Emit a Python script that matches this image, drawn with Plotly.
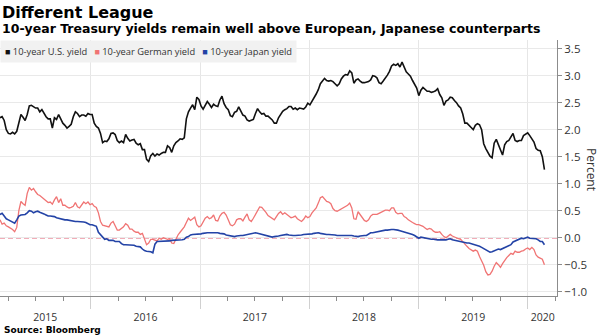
import pandas as pd
import plotly.graph_objects as go

# ---------------- data (weekly readings, %) ----------------
start_date = "2015-03-03"

us_yield = [
    2.22, 2.24, 2.17, 2.00, 1.93, 1.92, 1.95, 1.92, 1.97, 2.13,
    2.28, 2.23, 2.17, 2.28, 2.44, 2.45, 2.43, 2.40, 2.40, 2.33,
    2.37, 2.30, 2.24, 2.20, 2.20, 2.03, 2.22, 2.19, 2.28, 2.20,
    2.12, 2.08, 2.03, 2.06, 2.10, 2.24, 2.33, 2.30, 2.24, 2.27,
    2.27, 2.25, 2.30, 2.28, 2.28, 2.12, 2.06, 2.03, 1.93, 1.76,
    1.79, 1.78, 1.83, 1.93, 1.94, 1.91, 1.80, 1.76, 1.79, 1.76,
    1.91, 1.84, 1.79, 1.81, 1.82, 1.75, 1.72, 1.74, 1.63, 1.63,
    1.45, 1.41, 1.52, 1.56, 1.51, 1.55, 1.53, 1.56, 1.58, 1.58,
    1.70, 1.67, 1.58, 1.70, 1.76, 1.79, 1.83, 1.82, 1.85, 2.20,
    2.33, 2.40, 2.46, 2.37, 2.60, 2.56, 2.44, 2.38, 2.44, 2.52,
    2.47, 2.41, 2.47, 2.44, 2.43, 2.55, 2.62, 2.48, 2.41, 2.37,
    2.26, 2.24, 2.32, 2.34, 2.42, 2.33, 2.27, 2.25, 2.18, 2.16,
    2.18, 2.19, 2.30, 2.39, 2.33, 2.29, 2.30, 2.25, 2.25, 2.21,
    2.18, 2.12, 2.12, 2.22, 2.29, 2.34, 2.37, 2.39, 2.43, 2.43,
    2.38, 2.40, 2.37, 2.40, 2.39, 2.38, 2.42, 2.49, 2.46, 2.52,
    2.59, 2.66, 2.74, 2.85, 2.90, 2.95, 2.91, 2.90, 2.91, 2.89,
    2.85, 2.81, 2.85, 2.94, 2.99, 3.02, 3.01, 3.09, 3.05, 2.86,
    2.92, 2.94, 2.90, 2.87, 2.87, 2.88, 2.89, 2.92, 3.00, 2.99,
    2.96, 2.87, 2.85, 2.90, 2.95, 3.01, 3.08, 3.18, 3.21, 3.19,
    3.22, 3.16, 3.25, 3.14, 3.07, 3.03, 2.99, 2.91, 2.84, 2.77,
    2.63, 2.73, 2.78, 2.74, 2.71, 2.71, 2.69, 2.70, 2.72, 2.76,
    2.65, 2.59, 2.45, 2.53, 2.55, 2.60, 2.59, 2.54, 2.50, 2.44,
    2.40, 2.29, 2.12, 2.12, 2.07, 2.04, 2.00, 2.08, 2.11, 2.09,
    2.00, 1.74, 1.65, 1.59, 1.51, 1.48, 1.75, 1.82, 1.71, 1.62,
    1.53, 1.72, 1.78, 1.80, 1.87, 1.93, 1.80, 1.78, 1.80, 1.80,
    1.89, 1.92, 1.94, 1.89, 1.83, 1.77, 1.65, 1.62, 1.61, 1.50,
    1.26,
]

german_yield = [
    0.33, 0.25, 0.27, 0.22, 0.20, 0.18, 0.15, 0.11, 0.19, 0.50,
    0.67, 0.63, 0.60, 0.82, 0.93, 0.88, 0.91, 0.85, 0.80, 0.78,
    0.75, 0.72, 0.68, 0.65, 0.66, 0.62, 0.70, 0.76, 0.65, 0.72,
    0.60, 0.60, 0.57, 0.55, 0.56, 0.58, 0.65, 0.57, 0.55, 0.61,
    0.66, 0.63, 0.66, 0.61, 0.63, 0.58, 0.56, 0.46, 0.30, 0.23,
    0.22, 0.22, 0.20, 0.27, 0.30, 0.22, 0.14, 0.14, 0.17, 0.20,
    0.26, 0.23, 0.16, 0.16, 0.12, 0.10, 0.10, 0.06, 0.08, -0.04,
    -0.13, -0.10, -0.03, -0.03, -0.05, -0.06, -0.01, -0.03, 0.00, -0.01,
    -0.03, -0.02, -0.10, -0.11, -0.02, 0.05, 0.10, 0.15, 0.20, 0.28,
    0.36, 0.32, 0.36, 0.38, 0.24, 0.20, 0.22, 0.29, 0.36, 0.39,
    0.35, 0.37, 0.42, 0.32, 0.31, 0.40, 0.45, 0.47, 0.42, 0.33,
    0.24, 0.22, 0.25, 0.33, 0.35, 0.35, 0.31, 0.38, 0.44, 0.33,
    0.30, 0.36, 0.43, 0.51, 0.57, 0.56, 0.52, 0.47, 0.41, 0.38,
    0.36, 0.33, 0.39, 0.45, 0.48, 0.43, 0.46, 0.43, 0.39, 0.37,
    0.38, 0.40, 0.35, 0.32, 0.30, 0.34, 0.40, 0.37, 0.39, 0.46,
    0.50, 0.55, 0.64, 0.74, 0.76, 0.72, 0.67, 0.66, 0.63, 0.54,
    0.50, 0.49, 0.51, 0.53, 0.55, 0.57, 0.60, 0.64, 0.55, 0.35,
    0.34, 0.48, 0.43, 0.37, 0.32, 0.30, 0.33, 0.40, 0.43, 0.43,
    0.43, 0.45, 0.47, 0.49, 0.51, 0.51, 0.50, 0.55, 0.55, 0.47,
    0.44, 0.45, 0.45, 0.39, 0.37, 0.33, 0.30, 0.28, 0.26, 0.24,
    0.24, 0.23, 0.21, 0.18, 0.15, 0.17, 0.16, 0.12, 0.10, 0.10,
    0.11, 0.06, 0.02, 0.00, 0.03, 0.06, 0.03, 0.01, -0.01, -0.02,
    -0.03, -0.08, -0.12, -0.16, -0.20, -0.23, -0.25, -0.23, -0.25, -0.35,
    -0.42, -0.51, -0.63, -0.69, -0.68, -0.62, -0.53, -0.46, -0.50, -0.55,
    -0.48, -0.42, -0.37, -0.33, -0.29, -0.31, -0.25, -0.27, -0.27, -0.25,
    -0.24, -0.21, -0.19, -0.22, -0.18, -0.22, -0.32, -0.36, -0.38, -0.40,
    -0.50,
]

japan_yield = [
    0.43, 0.45, 0.40, 0.35, 0.33, 0.31, 0.29, 0.27, 0.33, 0.40,
    0.42, 0.43, 0.43, 0.46, 0.50, 0.49, 0.46, 0.48, 0.49, 0.47,
    0.46, 0.44, 0.42, 0.40, 0.40, 0.40, 0.39, 0.37, 0.36, 0.34,
    0.33, 0.33, 0.33, 0.32, 0.31, 0.30, 0.30, 0.30, 0.30, 0.30,
    0.29, 0.28, 0.26, 0.24, 0.24, 0.23, 0.21, 0.10, 0.05, 0.00,
    -0.03, -0.02, -0.05, -0.05, -0.05, -0.07, -0.07, -0.07, -0.11, -0.13,
    -0.13, -0.13, -0.13, -0.13, -0.14, -0.16, -0.16, -0.17, -0.21, -0.24,
    -0.25, -0.25, -0.26, -0.28, -0.12, -0.07, -0.07, -0.07, -0.07, -0.07,
    -0.07, -0.06, -0.05, -0.05, -0.05, -0.04, -0.04, -0.04, -0.03, 0.01,
    0.02, 0.05, 0.06, 0.06, 0.06, 0.06, 0.07, 0.08, 0.09, 0.09,
    0.09, 0.09, 0.10, 0.10, 0.09, 0.08, 0.08, 0.07, 0.05, 0.04,
    0.03, 0.02, 0.02, 0.03, 0.04, 0.04, 0.04, 0.05, 0.06, 0.07,
    0.08, 0.09, 0.09, 0.08, 0.07, 0.06, 0.05, 0.04, 0.03, 0.02,
    0.01, 0.02, 0.02, 0.03, 0.04, 0.05, 0.05, 0.06, 0.05, 0.04,
    0.04, 0.04, 0.04, 0.05, 0.05, 0.06, 0.06, 0.06, 0.07, 0.07,
    0.08, 0.09, 0.09, 0.08, 0.07, 0.07, 0.06, 0.06, 0.06, 0.06,
    0.05, 0.04, 0.04, 0.04, 0.04, 0.05, 0.05, 0.04, 0.04, 0.03,
    0.02, 0.02, 0.03, 0.04, 0.04, 0.04, 0.06, 0.09, 0.09, 0.10,
    0.10, 0.11, 0.12, 0.13, 0.14, 0.14, 0.15, 0.15, 0.15, 0.15,
    0.14, 0.13, 0.12, 0.11, 0.10, 0.09, 0.08, 0.06, 0.04, 0.01,
    -0.01, 0.01, 0.00, -0.01, -0.01, -0.02, -0.03, -0.03, -0.04, -0.04,
    -0.04, -0.04, -0.05, -0.04, -0.03, -0.02, -0.04, -0.05, -0.06, -0.06,
    -0.07, -0.09, -0.10, -0.10, -0.10, -0.11, -0.12, -0.13, -0.14, -0.16,
    -0.18, -0.20, -0.22, -0.24, -0.27, -0.26, -0.24, -0.22, -0.21, -0.22,
    -0.20, -0.18, -0.16, -0.15, -0.13, -0.08, -0.06, -0.05, -0.02, -0.01,
    -0.02, 0.00, 0.01, -0.01, -0.01, -0.02, -0.02, -0.04, -0.07, -0.07,
    -0.13,
]

series_names = ["10-year U.S. yield", "10-year German yield", "10-year Japan yield"]
series_colors = ["#111111", "#f07474", "#2343a6"]

year_starts = ["2016-01-01", "2017-01-01", "2018-01-01", "2019-01-01", "2020-01-01"]
year_label_pos = ["2015-08-01", "2016-07-01", "2017-07-02", "2018-07-02", "2019-07-02", "2020-02-19"]
year_labels = ["2015", "2016", "2017", "2018", "2019", "2020"]
x_range = ["2015-03-03", "2020-04-07"]
y_range = [-1.08, 3.66]

dates = pd.date_range(start=start_date, periods=len(us_yield), freq="7D")

# ---------------- figure ----------------
fig = go.Figure()
for vals, name, col, w in zip([us_yield, german_yield, japan_yield], series_names, series_colors, [1.6, 1.3, 1.6]):
    fig.add_trace(go.Scatter(x=dates, y=vals, mode="lines", name=name,
                             line=dict(color=col, width=w), showlegend=False))

# helper axis for centred year labels (invisible trace keeps it alive)
fig.add_trace(go.Scatter(x=[dates[0]], y=[None], xaxis="x2", showlegend=False,
                         hoverinfo="skip", mode="lines"))

fig.add_shape(type="line", xref="paper", x0=0, x1=1, yref="y", y0=0, y1=0,
              line=dict(color="#e35d72", width=1.5, dash="5px,3px"), layer="between")

FONT = "Open Sans"
fig.update_layout(
    width=600, height=336,
    margin=dict(l=0, r=43, t=40, b=40),
    paper_bgcolor="white", plot_bgcolor="white",
    font=dict(family=FONT, color="#333333"),
    showlegend=False,
    xaxis=dict(type="date", range=x_range, tickmode="array", tickvals=year_starts,
               showticklabels=False, showgrid=True, gridcolor="#e6e6e6", gridwidth=1,
               ticks="outside", ticklen=12, tickcolor="#d0d0d0", tickwidth=1,
               showline=True, linecolor="#8c8c8c", linewidth=1, zeroline=False,
               minor=dict(dtick="M3", tick0="2015-01-01", ticks="outside", ticklen=4,
                          tickcolor="#8c8c8c", showgrid=False)),
    xaxis2=dict(type="date", range=x_range, overlaying="x", anchor="y", side="bottom",
                tickmode="array", tickvals=year_label_pos, ticktext=year_labels,
                ticks="outside", ticklen=11, tickcolor="rgba(0,0,0,0)",
                showgrid=False, showline=False, zeroline=False,
                tickfont=dict(family=FONT, size=10.5, color="#333333")),
    yaxis=dict(side="right", range=y_range, dtick=0.5, tick0=0, tickformat=".1f",
               showgrid=True, gridcolor="#e9e9e9", zeroline=False,
               showline=True, linecolor="#8c8c8c", linewidth=1,
               ticks="outside", ticklen=4, tickcolor="#8c8c8c",
               tickfont=dict(family=FONT, size=11.5, color="#333333")),
)

# titles
fig.add_annotation(text="<b>Different League</b>", xref="paper", yref="paper",
                   x=0.0, y=(296 - 12.5) / 256, xanchor="left", yanchor="middle",
                   showarrow=False, font=dict(family="DejaVu Sans", size=16, color="#000000"))
fig.add_annotation(text="<b>10-year Treasury yields remain well above European, Japanese counterparts</b>",
                   xref="paper", yref="paper", x=0.0, y=(296 - 28.5) / 256,
                   xanchor="left", yanchor="middle", showarrow=False,
                   font=dict(family="DejaVu Sans", size=12.5, color="#000000"))
fig.add_annotation(text="<b>Source: Bloomberg</b>", xref="paper", yref="paper",
                   x=0.004, y=(296 - 329.5) / 256, xanchor="left", yanchor="middle",
                   showarrow=False, font=dict(family="DejaVu Sans", size=9, color="#000000"))
fig.add_annotation(text="Percent", xref="paper", yref="paper", x=592 / 557, y=0.496,
                   xanchor="center", yanchor="middle", textangle=90, showarrow=False,
                   font=dict(family=FONT, size=12, color="#333333"))

# legend band
legend_parts = []
for name, col in zip(series_names, series_colors):
    legend_parts.append(f"<span style='color:{col};font-size:9px'>■</span>&nbsp;{name}")
fig.add_annotation(text="&nbsp;&nbsp;&nbsp;".join(legend_parts), xref="paper", yref="paper",
                   x=0.0, y=1.0, xanchor="left", yanchor="top", showarrow=False,
                   bgcolor="#f1f1f1", borderpad=4, align="left",
                   font=dict(family=FONT, size=9.3, color="#333333"))

fig.write_html("out.html")
